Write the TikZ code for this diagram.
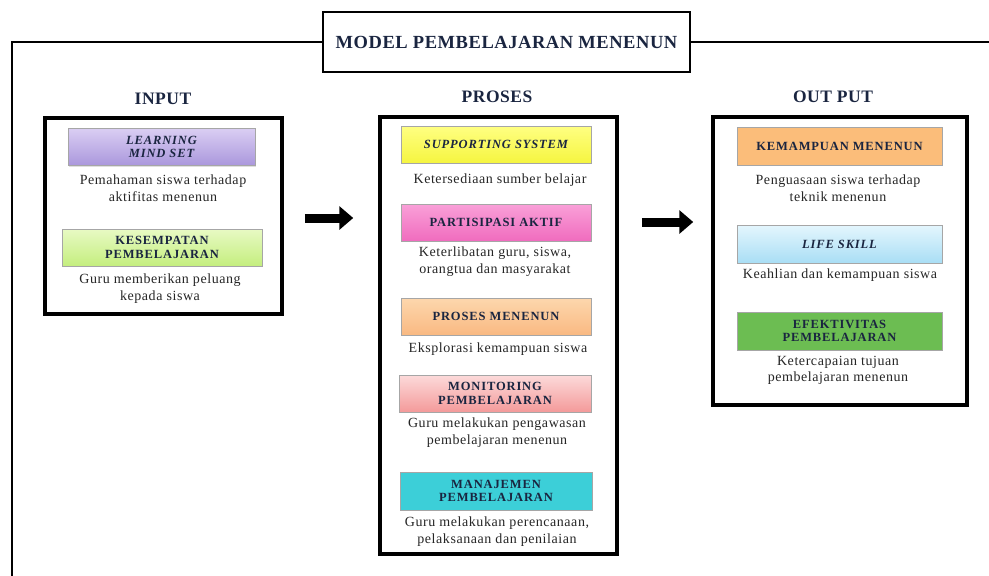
\documentclass[tikz,border=0pt]{standalone}
\usepackage{fontspec}
\setmainfont{Liberation Serif}
\newfontfamily\boxfont[LetterSpace=7]{Liberation Serif}
\newfontfamily\descfont[LetterSpace=4]{Liberation Serif}
\newfontfamily\headfont[LetterSpace=3]{Liberation Serif}
\usetikzlibrary{arrows.meta,shadows}

\definecolor{inktext}{HTML}{1A2540}
\definecolor{desctext}{HTML}{262626}

\tikzset{
  bigbox/.style={draw=black, line width=3.5pt, fill=white, inner sep=0pt,
    drop shadow={shadow xshift=1.5pt, shadow yshift=-1.5pt, opacity=0.35}},
  itembox/.style={draw=black!35, line width=0.5pt, inner sep=0pt,
    minimum height=37pt, text=inktext, align=center,
    font=\boxfont\bfseries\fontsize{12.5}{13.5}\selectfont,
    drop shadow={shadow xshift=1pt, shadow yshift=-1pt, opacity=0.25}},
  desc/.style={text=desctext, align=center, font=\descfont\fontsize{14}{16.5}\selectfont},
  heading/.style={font=\headfont\bfseries\fontsize{17.5}{17.5}\selectfont, text=inktext},
  bigarrow/.style={line width=9pt, -{Triangle[length=14pt,width=23pt]}}
}

\begin{document}
\begin{tikzpicture}[x=1pt,y=-1pt]
  \useasboundingbox (0,0) rectangle (989,576);

  % frame and title
  \coordinate (framebl) at (12,576);
  \coordinate (frametl) at (12,42);
  \coordinate (frametr) at (989,42);
  \draw[line width=2pt] (framebl) -- (frametl) -- (frametr);
  \node[draw=black, line width=1.5pt, fill=white, minimum width=367pt, minimum height=60pt,
    font=\headfont\bfseries\fontsize{18.5}{18.5}\selectfont, text=inktext] (title) at (506.5,42)
    {MODEL PEMBELAJARAN MENENUN};

  % headings
  \node[heading] (hinput) at (163,99) {INPUT};
  \node[heading] (hproses) at (497,97) {PROSES};
  \node[heading] (houtput) at (833,97) {OUT PUT};

  % big boxes
  \node[bigbox, minimum width=237pt, minimum height=196pt] (inbox) at (163.5,216) {};
  \node[bigbox, minimum width=237pt, minimum height=437pt] (proses) at (498.5,335.5) {};
  \node[bigbox, minimum width=254pt, minimum height=288pt] (outbox) at (840,261) {};

  % input
  \node[itembox, minimum width=187pt, top color={rgb,255:red,218;green,206;blue,243},
    bottom color={rgb,255:red,170;green,151;blue,220}] (mindset) at (161.5,147)
    {\itshape LEARNING\\ \itshape MIND SET};
  \node[desc] (mindsetd) at (163,188) {Pemahaman siswa terhadap\\ aktifitas menenun};
  \node[itembox, minimum width=200pt, top color={rgb,255:red,232;green,250;blue,196},
    bottom color={rgb,255:red,196;green,238;blue,126}] (kesempatan) at (162,247.5)
    {KESEMPATAN\\ PEMBELAJARAN};
  \node[desc] (kesempatand) at (160,288.5) {Guru memberikan peluang\\ kepada siswa};

  % proses
  \node[itembox, minimum width=190pt, top color={rgb,255:red,255;green,255;blue,130},
    bottom color={rgb,255:red,245;green,245;blue,64}] (supporting) at (496,144.5)
    {\itshape SUPPORTING SYSTEM};
  \node[desc] (supportingd) at (500,180) {Ketersediaan sumber belajar};
  \node[itembox, minimum width=190pt, top color={rgb,255:red,249;green,160;blue,216},
    bottom color={rgb,255:red,240;green,108;blue,190}] (partisipasi) at (496,222.5)
    {PARTISIPASI AKTIF};
  \node[desc] (partisipasid) at (495,261.5) {Keterlibatan guru, siswa,\\ orangtua dan masyarakat};
  \node[itembox, minimum width=190pt, top color={rgb,255:red,253;green,215;blue,173},
    bottom color={rgb,255:red,249;green,185;blue,130}] (prosesmenenun) at (496,316.5)
    {PROSES MENENUN};
  \node[desc] (prosesmenenund) at (498,349) {Eksplorasi kemampuan siswa};
  \node[itembox, minimum width=192pt, top color={rgb,255:red,252;green,218;blue,218},
    bottom color={rgb,255:red,244;green,154;blue,154}] (monitoring) at (495,393.5)
    {MONITORING\\ PEMBELAJARAN};
  \node[desc] (monitoringd) at (497,432.5) {Guru melakukan pengawasan\\ pembelajaran menenun};
  \node[itembox, minimum width=192pt, minimum height=38pt,
    fill={rgb,255:red,60;green,207;blue,216}] (manajemen) at (496,491)
    {MANAJEMEN\\ PEMBELAJARAN};
  \node[desc] (manajemend) at (497,531.5) {Guru melakukan perencanaan,\\ pelaksanaan dan penilaian};

  % output
  \node[itembox, minimum width=205pt, minimum height=38pt,
    fill={rgb,255:red,251;green,189;blue,122}] (kemampuan) at (839.5,146)
    {KEMAMPUAN MENENUN};
  \node[desc] (kemampuand) at (838,188) {Penguasaan siswa terhadap\\ teknik menenun};
  \node[itembox, minimum width=205pt, minimum height=38pt, top color={rgb,255:red,228;green,246;blue,253},
    bottom color={rgb,255:red,169;green,222;blue,245}] (lifeskill) at (839.5,244)
    {\itshape LIFE SKILL};
  \node[desc] (lifeskilld) at (840,275) {Keahlian dan kemampuan siswa};
  \node[itembox, minimum width=205pt, minimum height=38pt,
    fill={rgb,255:red,108;green,189;blue,82}] (efektivitas) at (839.5,331)
    {EFEKTIVITAS\\ PEMBELAJARAN};
  \node[desc] (efektivitasd) at (838,370.5) {Ketercapaian tujuan\\ pembelajaran menenun};

  % arrows
  \coordinate (arrowone) at (0,218);
  \coordinate (arrowtwo) at (0,222);
  \draw[bigarrow, shorten <=21pt, shorten >=25pt] (inbox.east |- arrowone) -- (proses.west |- arrowone);
  \draw[bigarrow, shorten <=23pt, shorten >=18pt] (proses.east |- arrowtwo) -- (outbox.west |- arrowtwo);
\end{tikzpicture}
\end{document}
